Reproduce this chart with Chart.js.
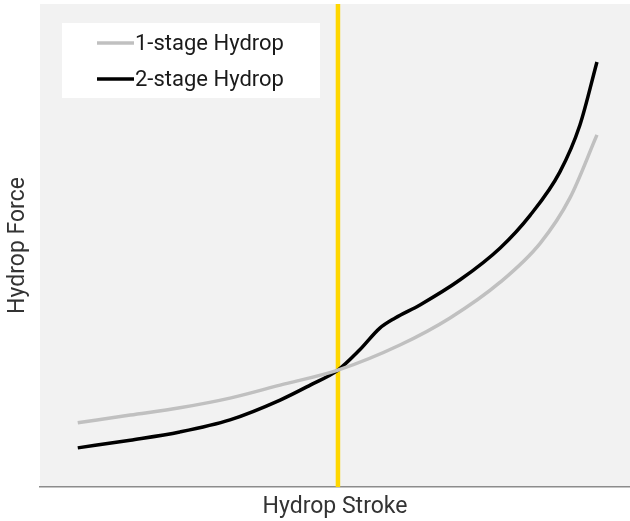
<!DOCTYPE html>
<html>
<head>
  <meta charset="utf-8">
  <title>Hydrop Force vs Stroke</title>
  <script src="https://cdn.jsdelivr.net/npm/chart.js@4.4.0/dist/chart.umd.min.js"></script>
  <style>
    html, body { margin: 0; padding: 0; background: #ffffff; }
    #wrap { width: 630px; height: 521px; }
  </style>
</head>
<body>
<div id="wrap"><canvas id="myChart"></canvas></div>
<script>
  // stroke (0-100) and force (0-100)
  let stroke1 = [6.4, 15.3, 23.7, 32.2, 40.7, 50.5, 61.0, 69.5, 78.0, 84.8, 89.8, 94.4];
  let force1  = [13.3, 14.9, 16.4, 18.4, 21.1, 24.2, 29.4, 35.0, 42.4, 50.5, 59.8, 72.9];

  let stroke2 = [6.4, 15.3, 23.7, 32.2, 40.7, 45.8, 50.5, 54.2, 57.6, 60.2, 64.4, 71.2, 78.0, 83.1, 88.1, 91.5, 94.4];
  let force2  = [8.1, 9.7, 11.4, 13.9, 18.0, 21.1, 24.2, 28.4, 32.9, 35.0, 37.7, 42.9, 49.5, 56.3, 65.2, 74.9, 88.0];

  let markerStroke = 50.5;
  let labels = ['1-stage Hydrop', '2-stage Hydrop'];

  function toPoints(xs, ys) {
    let pts = [];
    for (let i = 0; i < xs.length; i++) pts.push({x: xs[i], y: ys[i]});
    return pts;
  }

  const fontName = 'Roboto, "Liberation Sans", sans-serif';

  const areaBg = {
    id: 'areaBg',
    beforeDraw(chart) {
      const a = chart.chartArea, c = chart.ctx;
      c.save();
      c.fillStyle = '#f2f2f2';
      c.fillRect(a.left, a.top, a.right - a.left, a.bottom - a.top);
      c.restore();
    }
  };

  // legend drawn as a white box inside the plot area
  const boxLegend = {
    id: 'boxLegend',
    afterDatasetsDraw(chart) {
      const a = chart.chartArea, c = chart.ctx;
      const bx = a.left + 22, by = a.top + 19;
      c.save();
      c.fillStyle = '#ffffff';
      c.fillRect(bx, by, 258, 75);
      c.font = '22px ' + fontName;
      c.textBaseline = 'middle';
      for (let i = 0; i < labels.length; i++) {
        const ds = chart.data.datasets[i];
        const y = by + 20 + i * 36;
        c.strokeStyle = ds.borderColor;
        c.lineWidth = ds.borderWidth;
        c.beginPath();
        c.moveTo(bx + 35, y);
        c.lineTo(bx + 72, y);
        c.stroke();
        c.fillStyle = '#1a1a1a';
        c.fillText(labels[i], bx + 73, y + 1);
      }
      c.restore();
    }
  };

  var ctx = document.getElementById('myChart').getContext('2d');
  var myChart = new Chart(ctx, {
    type: 'line',
    data: {
      datasets: [{
        label: labels[0],
        data: toPoints(stroke1, force1),
        borderColor: '#c0c0c0',
        borderWidth: 3.5,
        pointRadius: 0,
        tension: 0.4,
        cubicInterpolationMode: 'monotone'
      }, {
        label: labels[1],
        data: toPoints(stroke2, force2),
        borderColor: '#000000',
        borderWidth: 3.5,
        pointRadius: 0,
        tension: 0.4,
        cubicInterpolationMode: 'monotone'
      }, {
        label: 'marker',
        data: [{x: markerStroke, y: 0}, {x: markerStroke, y: 100}],
        borderColor: '#ffd700',
        borderWidth: 4.5,
        pointRadius: 0,
        order: 5
      }]
    },
    options: {
      responsive: true,
      maintainAspectRatio: false,
      animation: false,
      layout: { padding: { top: 4, right: 0, left: 0, bottom: 0 } },
      plugins: {
        legend: { display: false },
        tooltip: { enabled: false }
      },
      scales: {
        x: {
          type: 'linear',
          min: 0,
          max: 100,
          grid: { display: false },
          ticks: { display: false },
          border: { display: true, color: '#8c8c8c', width: 1.5 },
          title: {
            display: true,
            text: 'Hydrop Stroke',
            color: '#333333',
            font: { family: fontName, size: 23 },
            padding: { top: 4, bottom: 0 }
          },
          afterFit(scale) { scale.height = 34; }
        },
        y: {
          min: 0,
          max: 100,
          grid: { display: false },
          ticks: { display: false },
          border: { display: false },
          title: {
            display: true,
            text: 'Hydrop Force',
            color: '#333333',
            font: { family: fontName, size: 23 },
            padding: { top: 4, bottom: 4 }
          },
          afterFit(scale) { scale.width = 40; }
        }
      }
    },
    plugins: [areaBg, boxLegend]
  });
</script>
</body>
</html>
